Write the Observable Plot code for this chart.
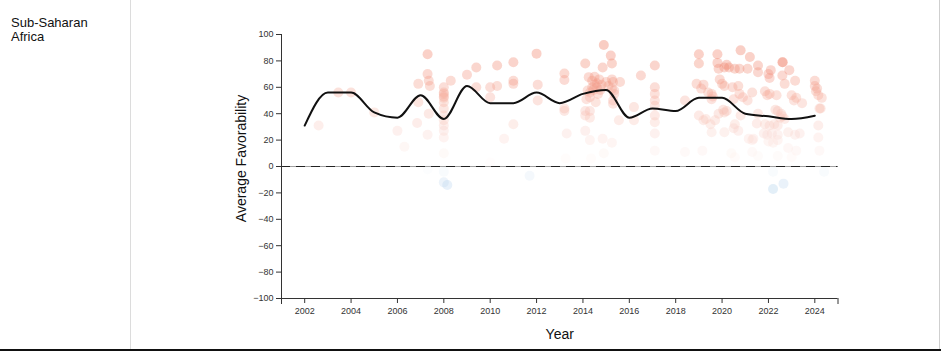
<!DOCTYPE html>
<html>
<head>
<meta charset="utf-8">
<script src="https://cdn.jsdelivr.net/npm/d3@7"></script>
<script src="https://cdn.jsdelivr.net/npm/@observablehq/plot@0.6"></script>
<style>
  html, body { margin: 0; padding: 0; background: #fff; }
  #page { position: relative; width: 941px; height: 352px; overflow: hidden; font-family: "Liberation Sans", Arial, Helvetica, sans-serif; }
  #side { position: absolute; left: 0; top: 0; width: 130px; height: 350px; border-right: 1px solid #dcdcdc; }
  #side .name { position: absolute; left: 11px; top: 16px; font-size: 13px; line-height: 14px; color: #111; }
  #bottom { position: absolute; left: 0; top: 349px; width: 941px; height: 2px; background: #111; }
  #rightedge { position: absolute; left: 939px; top: 0; width: 1px; height: 350px; background: #cfcfcf; }
  #chart { position: absolute; left: 131px; top: 0; }
</style>
</head>
<body>
<div id="page">
  <div id="side"><div class="name">Sub-Saharan<br>Africa</div></div>
  <div id="chart"></div>
  <div id="rightedge"></div>
  <div id="bottom"></div>
</div>
<script>
// ---- data ----
const regionName = "Sub-Saharan Africa";
const xTicks = [2002, 2004, 2006, 2008, 2010, 2012, 2014, 2016, 2018, 2020, 2022, 2024];
const yTicks = [-100, -80, -60, -40, -20, 0, 20, 40, 60, 80, 100];

// yearly average (smoothed line)
const lineYears = [2002, 2003, 2004, 2005, 2006, 2007, 2008, 2009, 2010, 2011, 2012, 2013, 2014, 2015, 2016, 2017, 2018, 2019, 2020, 2021, 2022, 2023, 2024];
const lineValues = [31, 56, 56, 41, 37, 54, 36, 61, 48, 48, 56, 48, 55, 58, 37, 44, 42, 52, 52, 40, 38, 36, 38.5];

// individual survey results (date as fractional year, favorability)
const surveyYear = [
  2002.6, 2003.45, 2004.0, 2005.0, 2006.0, 2006.3,
  2006.9, 2006.9, 2006.85, 2007.3, 2007.3, 2007.35, 2007.4, 2007.35, 2007.3, 2007.3,
  2008.0, 2008.0, 2008.0, 2008.0, 2008.0, 2008.0, 2008.0, 2008.0, 2008.0, 2008.0, 2008.0, 2008.0, 2008.0, 2008.0, 2008.0, 2008.15, 2008.3,
  2009.0, 2009.4, 2009.4,
  2010.0, 2010.0, 2010.0, 2010.3, 2010.3, 2010.6,
  2011.0, 2011.0, 2011.0, 2011.0, 2011.7,
  2012.0, 2012.05, 2012.05,
  2013.2, 2013.2, 2013.2, 2013.2, 2013.3, 2013.25,
  2014.1, 2014.25, 2014.4, 2014.5, 2014.6, 2014.7, 2014.8, 2014.9, 2014.85, 2015.2, 2015.25, 2015.25, 2015.3, 2015.25,
  2014.2, 2014.3, 2014.15, 2014.3, 2014.55, 2014.1, 2014.3, 2014.1, 2014.3, 2014.1, 2014.3, 2014.85, 2015.25, 2014.9, 2014.35,
  2015.3, 2015.3, 2015.35, 2015.35, 2015.6, 2015.55, 2014.6, 2014.75, 2014.5, 2015.0, 2015.1, 2014.65, 2014.4, 2014.45,
  2016.2, 2016.2, 2016.5,
  2017.1, 2017.1, 2017.1, 2017.1, 2017.1, 2017.1, 2017.1, 2017.1, 2017.1,
  2018.4, 2018.4,
  2019.0, 2019.0, 2018.9, 2019.1, 2019.0, 2019.2, 2019.55, 2019.55, 2019.5, 2019.55, 2019.15,
  2019.8, 2019.8, 2019.85, 2019.9, 2020.0, 2020.1, 2019.85, 2020.1, 2020.1, 2020.2, 2020.3,
  2020.55, 2020.75, 2020.8, 2021.2, 2021.1, 2020.7, 2020.9, 2020.55, 2020.8, 2021.15, 2020.55,
  2019.2, 2019.4, 2019.6, 2020.45, 2020.5, 2020.75, 2020.1, 2019.3, 2019.7, 2020.05, 2020.2, 2020.5, 2020.7, 2020.4, 2021.3,
  2021.55, 2021.55, 2022.0, 2022.1, 2022.05, 2022.6, 2022.62, 2022.6, 2022.7, 2022.9, 2023.15,
  2021.85, 2022.05, 2021.95, 2022.35, 2021.3, 2021.1, 2023.0, 2023.1, 2023.2, 2023.45,
  2022.3, 2022.4, 2022.55, 2022.6, 2022.7, 2022.5, 2021.55, 2021.5,
  2021.85, 2022.05, 2022.25, 2022.4, 2021.8, 2021.95, 2022.15, 2022.4, 2021.3, 2021.35,
  2022.0, 2022.2, 2022.4, 2022.85, 2023.15, 2023.35, 2022.85, 2023.2, 2021.55, 2022.4, 2023.0,
  2022.2, 2022.2, 2022.65,
  2024.0, 2024.0, 2024.1, 2024.05, 2024.15, 2024.3, 2024.25, 2024.2, 2024.15, 2024.15, 2024.2, 2024.4
];
const surveyValue = [
  31, 56, 56, 41, 27, 15,
  62.6, 48.7, 33, 85, 70, 65, 61, 40, 24, -2,
  60, 56, 55, 53, 52, 48.7, 44, 38.6, 35, 31, 27, 22, 10, -4, -12, -14, 65,
  69.5, 75, 60,
  60, 52.5, 3, 76.5, 61, 21,
  79, 65, 62.6, 32, -7,
  85.5, 62, 50,
  70.5, 65.5, 44, 42, 25, 6,
  78, 67.7, 65, 68, 63, 66, 62, 92, 75, 84, 78, 66, 64, 59,
  57.6, 56, 51, 52.5, 48.7, 42, 42, 38.6, 37, 27, 20, 21, 18, 10, 6,
  47.5, 50, 55, 57.6, 64, 35, 60, 58, 62, 64, 61, 55, 60, 58,
  45, 35, 69,
  76.5, 60, 55, 50, 46, 38.6, 33.5, 25, 12,
  50, 11,
  85, 78, 62.6, 59, 38.6, 35, 55, 51, 32, 26, 12,
  85, 78.5, 74, 66, 62.6, 75, 40, 41, 26, 77, 75,
  74, 74, 88, 83, 74, 61, 52.5, 32, 38.6, 21, 7,
  62, 56, 53, 60, 51, 55, 61, 36, 35, 43, 42, 29, 27, 10, 11,
  76.5, 71.4, 70, 73, 67, 79, 79, 69, 62.6, 73, 65,
  57, 55, 54, 54, 56, 50, 54, 50, 52, 48,
  43, 42, 40, 38, 36, 37, 40, 32.6,
  32, 31, 32, 31, 25, 24, 25, 24, 20, 21,
  19, 18, 20, 26, 24, 25, 14, 12, 8, 8, 7,
  -4, -17, -13,
  65, 61, 59, 57, 54, 52, 44, 44, 31, 22, 12, -4
];

const surveys = surveyYear.map((year, i) => ({year, value: surveyValue[i]}));
const yearly = lineYears.map((year, i) => ({year, value: lineValues[i]}));

const font = "Liberation Sans, Arial, Helvetica, sans-serif";

const chart = Plot.plot({
  width: 810,
  height: 350,
  marginLeft: 150,
  marginRight: 103.5,
  marginTop: 34,
  marginBottom: 52,
  style: {fontFamily: font, fontSize: "9px", color: "#333", background: "transparent", overflow: "visible"},
  x: {domain: [2001, 2025]},
  y: {domain: [-100, 100]},
  color: {
    type: "diverging",
    pivot: 0,
    symmetric: false,
    domain: [-40, 100],
    interpolate: d3.piecewise(d3.interpolateRgb, ["#3a8ad0", "#ffffff", "#ec5a3a"])
  },
  marks: [
    Plot.dot(surveys, {x: "year", y: "value", r: 5, fill: "value", fillOpacity: 0.33, stroke: null}),
    Plot.ruleY([0], {stroke: "#a0a0a0", strokeWidth: 1.2}),
    Plot.ruleY([0], {stroke: "#222", strokeWidth: 1.2, strokeDasharray: "9,6"}),
    Plot.line(yearly, {x: "year", y: "value", curve: "monotone-x", stroke: "#111", strokeWidth: 2}),
    Plot.ruleX([2001], {stroke: "#333"}),
    Plot.ruleY([-100], {stroke: "#333"}),
    Plot.axisY(yTicks, {tickSize: 5, tickPadding: 3, fontSize: 9, label: null, fill: "#333"}),
    Plot.axisX(xTicks, {tickSize: 5, tickPadding: 4, fontSize: 9, label: null, tickFormat: d => String(d), fill: "#333"}),
    Plot.axisX([2001, 2025], {tickSize: 6, tickFormat: () => "", label: null}),
    Plot.text(["Year"], {frameAnchor: "bottom", dy: 36, fontSize: 14, fill: "#111", lineAnchor: "middle"}),
    Plot.text(["Average Favorability"], {frameAnchor: "left", dx: -40, dy: -8, rotate: -90, fontSize: 14, fill: "#111", textAnchor: "middle", lineAnchor: "middle"})
  ]
});
document.getElementById("chart").appendChild(chart);
</script>
</body>
</html>
